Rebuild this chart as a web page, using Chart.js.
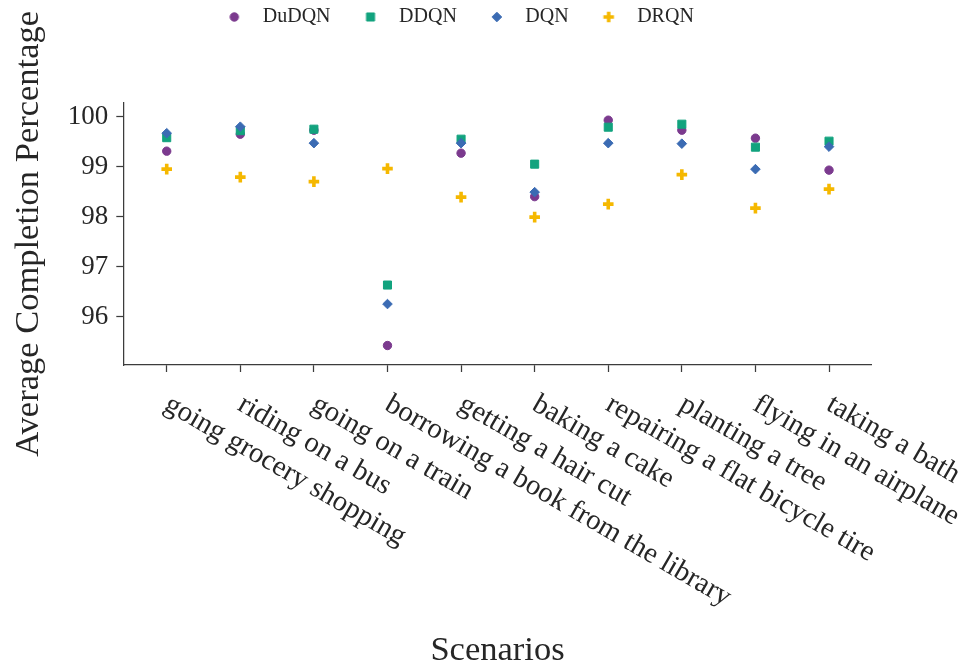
<!DOCTYPE html>
<html>
<head>
<meta charset="utf-8">
<script src="https://cdn.jsdelivr.net/npm/chart.js@4/dist/chart.umd.min.js"></script>
<style>
  html, body { margin: 0; padding: 0; background: #ffffff; }
  #wrap { width: 966px; height: 666px; }
</style>
</head>
<body>
<div id="wrap"><canvas id="completionChart" width="966" height="666"></canvas></div>
<script>
const scenarios = [
    'going grocery shopping', 'riding on a bus', 'going on a train',
    'borrowing a book from the library', 'getting a hair cut', 'baking a cake',
    'repairing a flat bicycle tire', 'planting a tree', 'flying in an airplane', 'taking a bath'
];
const yTicks = [96, 97, 98, 99, 100];

const dudqn = [99.31, 99.65, 99.73, 95.42, 99.27, 98.40, 99.93, 99.73, 99.57, 98.93];
const ddqn  = [99.58, 99.72, 99.75, 96.63, 99.55, 99.05, 99.79, 99.85, 99.39, 99.51];
const dqn   = [99.67, 99.80, 99.47, 96.25, 99.47, 98.49, 99.47, 99.46, 98.95, 99.40];
const drqn  = [98.95, 98.79, 98.70, 98.96, 98.39, 97.99, 98.25, 98.84, 98.17, 98.55];

const INK = '#262626';
const SPINE = '#3c3c3c';
const SERIF = "'Liberation Serif', 'Times New Roman', serif";

// marker look per series, shared by the points and the legend icons
const markers = [
    { label: 'DuDQN', data: dudqn, color: '#7b3a8e', pointStyle: 'circle',  radius: 4.2, borderWidth: 1 },
    { label: 'DDQN',  data: ddqn,  color: '#12a37e', pointStyle: 'rect',    radius: 5.7, borderWidth: 1 },
    { label: 'DQN',   data: dqn,   color: '#3b6bb3', pointStyle: 'rectRot', radius: 4.8, borderWidth: 1 },
    { label: 'DRQN',  data: drqn,  color: '#f5b800', pointStyle: 'cross',   radius: 5.3, borderWidth: 3.6 }
];

const toPoints = (values) => values.map((v, i) => ({ x: i, y: v }));

const makeIcon = (m) => {
    const c = document.createElement('canvas');
    c.width = 18;
    c.height = 18;
    const g = c.getContext('2d');
    g.fillStyle = m.color;
    g.strokeStyle = m.color;
    g.lineWidth = m.borderWidth;
    Chart.helpers.drawPoint(g, { pointStyle: m.pointStyle, radius: m.radius, borderWidth: m.borderWidth, rotation: 0 }, 9, 9);
    return c;
};
const icons = markers.map(makeIcon);

// extra room between the legend row and the plot
const legendSpacer = {
    id: 'legendSpacer',
    beforeInit(chart) {
        const fit = chart.legend.fit;
        chart.legend.fit = function () {
            fit.call(this);
            this.height = 117.2;
        };
    }
};

// category names hang off the ticks, slanted down to the right
const slantedLabels = {
    id: 'slantedLabels',
    afterDraw(chart) {
        const { ctx, scales: { x } } = chart;
        ctx.save();
        ctx.font = `28.8px ${SERIF}`;
        ctx.fillStyle = INK;
        ctx.textAlign = 'left';
        ctx.textBaseline = 'alphabetic';
        scenarios.forEach((name, i) => {
            ctx.save();
            ctx.translate(x.getPixelForValue(i) - 4, x.top + 44);
            ctx.rotate(Math.PI / 6);
            ctx.fillText(name, 0, 0);
            ctx.restore();
        });
        ctx.restore();
    }
};

new Chart(document.getElementById('completionChart'), {
    type: 'scatter',
    data: {
        datasets: markers.map((m, i) => ({
            label: m.label,
            data: toPoints(m.data),
            backgroundColor: m.color,
            borderColor: m.color,
            borderWidth: m.borderWidth,
            pointStyle: m.pointStyle,
            pointRadius: m.radius,
            pointHoverRadius: m.radius,
            order: markers.length - 1 - i
        }))
    },
    options: {
        responsive: false,
        animation: false,
        layout: { padding: { top: -14.5, left: 0, right: 56.4, bottom: 0 } },
        plugins: {
            tooltip: { enabled: false },
            legend: {
                position: 'top',
                labels: {
                    usePointStyle: true,
                    pointStyleWidth: 37,
                    padding: 21.5,
                    color: INK,
                    font: { family: SERIF, size: 20 },
                    sort: (a, b) => a.datasetIndex - b.datasetIndex,
                    generateLabels(chart) {
                        const items = Chart.defaults.plugins.legend.labels.generateLabels(chart);
                        items.forEach(item => { item.pointStyle = icons[item.datasetIndex]; });
                        return items;
                    }
                }
            }
        },
        scales: {
            x: {
                type: 'linear',
                min: -0.59,
                max: 9.58,
                afterBuildTicks: (scale) => { scale.ticks = scenarios.map((_, i) => ({ value: i })); },
                afterFit: (scale) => { scale.height = 301; },
                ticks: { display: false },
                grid: { drawOnChartArea: false, drawTicks: true, tickLength: 7, tickWidth: 1.25, tickColor: SPINE },
                border: { display: true, color: SPINE, width: 1.25 },
                title: {
                    display: true,
                    text: 'Scenarios',
                    color: INK,
                    font: { family: SERIF, size: 34.5 },
                    padding: { top: 0, bottom: -5.5 }
                }
            },
            y: {
                min: 95.03,
                max: 100.28,
                afterBuildTicks: (scale) => { scale.ticks = yTicks.map(v => ({ value: v })); },
                afterFit: (scale) => { scale.width = 123.3; },
                ticks: { color: INK, padding: 8, font: { family: SERIF, size: 27 } },
                grid: { drawOnChartArea: false, drawTicks: true, tickLength: 7, tickWidth: 1.25, tickColor: SPINE },
                border: { display: true, color: SPINE, width: 1.25 },
                title: {
                    display: true,
                    text: 'Average Completion Percentage',
                    color: INK,
                    font: { family: SERIF, size: 34.5 },
                    padding: { top: 8, bottom: 0 }
                }
            },
            yRight: {
                position: 'right',
                afterFit: (scale) => { scale.width = 37.9; },
                ticks: { display: false },
                grid: { display: false, drawTicks: false },
                border: { display: false }
            }
        }
    },
    plugins: [legendSpacer, slantedLabels]
});
</script>
</body>
</html>
